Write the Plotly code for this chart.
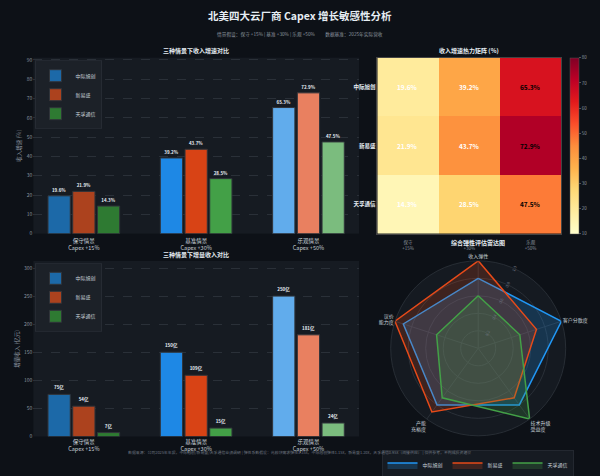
import plotly.graph_objects as go

# ---------------- data ----------------
companies = ["中际旭创", "新易盛", "天孚通信"]
scenarios = ["保守情景<br>Capex +15%", "基准情景<br>Capex +30%", "乐观情景<br>Capex +50%"]
heat_cols = ["保守<br>+15%", "基准<br>+30%", "乐观<br>+50%"]

growth_zjxc = [19.6, 39.2, 65.3]
growth_xys = [21.9, 43.7, 72.9]
growth_tfts = [14.3, 28.5, 47.5]

incr_zjxc = [75, 150, 250]
incr_xys = [54, 109, 181]
incr_tfts = [7, 15, 24]

radar_dims = ["收入弹性", "客户分散度", "技术升级<br>受益度", "产能<br>充裕度", "议价<br>能力度"]
radar_zjxc = [0.8, 1.0, 0.8, 0.8, 0.9]
radar_xys = [1.0, 0.7, 0.7, 0.9, 1.0]
radar_tfts = [0.6, 0.5, 1.0, 0.7, 0.5]

# ---------------- styles ----------------
FONT = "Noto Sans CJK SC, DejaVu Sans, sans-serif"
BG = "#0d1117"
PANEL = "#161b22"
GRID = "#2a3038"
TXT = "#e6edf3"
MUTED = "#8b949e"

bar_colors = {
    "中际旭创": ["#1c69a8", "#1e88e5", "#61acec"],
    "新易盛": ["#ac421e", "#d84315", "#e98060"],
    "天孚通信": ["#2e7a32", "#43a047", "#7bbc7e"],
}
radar_colors = {"中际旭创": "#2196f3", "新易盛": "#e64a19", "天孚通信": "#43a047"}
radar_fill = {"中际旭创": "rgba(33,150,243,0.22)", "新易盛": "rgba(230,74,25,0.20)",
              "天孚通信": "rgba(67,160,71,0.22)"}
ylorrd = ["#ffffcc", "#ffeda0", "#fed976", "#feb24c", "#fd8d3c",
          "#fc4e2a", "#e31a1c", "#bd0026", "#800026"]

fig = go.Figure()

growth_series = [growth_zjxc, growth_xys, growth_tfts]
incr_series = [incr_zjxc, incr_xys, incr_tfts]

# top bar chart
for name, vals in zip(companies, growth_series):
    fig.add_trace(go.Bar(
        x=scenarios, y=vals, name=name, legend="legend",
        marker=dict(color=bar_colors[name], line=dict(color="#30343a", width=1)),
        text=[f"{v}%" for v in vals], textposition="outside",
        textfont=dict(size=4.5, color=TXT, family=FONT, weight="bold"),
        cliponaxis=False, xaxis="x", yaxis="y"))

# bottom bar chart
for name, vals in zip(companies, incr_series):
    fig.add_trace(go.Bar(
        x=scenarios, y=vals, name=name, legend="legend2",
        marker=dict(color=bar_colors[name], line=dict(color="#30343a", width=1)),
        text=[f"{v}亿" for v in vals], textposition="outside",
        textfont=dict(size=4.5, color=TXT, family=FONT, weight="bold"),
        cliponaxis=False, xaxis="x3", yaxis="y3"))

# heatmap
heat_z = growth_series
fig.add_trace(go.Heatmap(
    z=heat_z, x=heat_cols, y=companies, colorscale=[[i / 8, c] for i, c in enumerate(ylorrd)],
    zmin=10, zmax=80, xaxis="x2", yaxis="y2", showscale=True,
    colorbar=dict(x=569.5 / 600, xanchor="left", xpad=0, ypad=0, thickness=9, len=175.5 / 476,
                  y=(476 - 145.8) / 476, yanchor="middle", tickvals=list(range(10, 81, 10)),
                  tickfont=dict(size=4.5, color=MUTED, family=FONT),
                  outlinewidth=0.5, outlinecolor="#555", ticks="outside", ticklen=2,
                  tickcolor="#555")))

annotations = []
for i, name in enumerate(companies):
    for j, col in enumerate(heat_cols):
        v = heat_z[i][j]
        annotations.append(dict(
            x=col, y=name, xref="x2", yref="y2", text=f"{v}%", showarrow=False,
            font=dict(size=6.5, color="black" if v > 45 else "white", family=FONT, weight="bold")))

# radar
for name, vals in zip(companies, [radar_zjxc, radar_xys, radar_tfts]):
    fig.add_trace(go.Scatterpolar(
        r=vals + vals[:1], theta=radar_dims + radar_dims[:1], name=name,
        mode="lines", fill="toself", fillcolor=radar_fill[name],
        line=dict(color=radar_colors[name], width=1.5), legend="legend3"))

# ---------------- text ----------------
def txt(x, y, s, size, color=TXT, bold=False):
    annotations.append(dict(x=x / 600, y=(476 - y) / 476, xref="paper", yref="paper",
                            text=s, showarrow=False, xanchor="center", yanchor="middle",
                            font=dict(size=size, color=color, family=FONT,
                                      weight="bold" if bold else "normal")))

txt(300, 16, "北美四大云厂商 Capex 增长敏感性分析", 10.5, TXT, True)
txt(300, 35, "情景假设：保守 +15% | 基准 +30% | 乐观 +50%　　 数据基准：2025年实际营收", 4.7, MUTED)
txt(196, 51, "三种情景下收入增速对比", 6, TXT, True)
txt(469, 51, "收入增速热力矩阵 (%)", 6, TXT, True)
txt(196, 254, "三种情景下增量收入对比", 6, TXT, True)
txt(478, 243, "综合弹性评估雷达图", 6, TXT, True)
txt(299, 452, "数据来源：公司2025年年报，中际旭创/新易盛/天孚通信业绩调研 | 弹性系数假设：光模块需求弹性1.35x，"
              "中际旭创弹性1.15x，新易盛1.20x，天孚通信0.95x（间接供应） | 仅供参考，不构成投资建议", 3.9, "#6e7681")

axis_font = dict(size=5, color=MUTED, family=FONT)
xlab_font = dict(size=5.5, color="#c9d1d9", family=FONT)

legend_common = dict(bgcolor="#1c2128", bordercolor="#30363d", borderwidth=0.5,
                     font=dict(size=5, color="#c9d1d9", family=FONT),
                     xanchor="left", yanchor="top", itemwidth=30)

fig.update_layout(
    width=600, height=476, margin=dict(l=0, r=0, t=0, b=0, autoexpand=False),
    paper_bgcolor=BG, plot_bgcolor=PANEL,
    font=dict(family=FONT, color=TXT),
    barmode="group", bargap=0.34, bargroupgap=0.1,
    xaxis=dict(domain=[33.3 / 600, 359 / 600], anchor="y", range=[-0.45, 2.45],
               tickfont=xlab_font, showgrid=False, zeroline=False, ticks="", ticklabelstandoff=3),
    yaxis=dict(domain=[(476 - 233.7) / 476, (476 - 57.7) / 476], anchor="x",
               range=[0, 91.1], dtick=10, tickfont=axis_font, gridcolor=GRID,
               griddash="dash", gridwidth=0.6, zeroline=False,
               title=dict(text="收入增速 (%)", font=dict(size=5.5, color=MUTED, family=FONT), standoff=4)),
    xaxis2=dict(domain=[377.3 / 600, 561.3 / 600], anchor="y2", tickfont=dict(size=4.5, color=MUTED, family=FONT),
                showgrid=False, zeroline=False, ticks="", showline=True, mirror=True, linecolor="#444",
                linewidth=0.5, ticklabelstandoff=4),
    yaxis2=dict(domain=[(476 - 233.7) / 476, (476 - 57.7) / 476], anchor="x2", autorange="reversed",
                tickfont=dict(size=5.5, color=TXT, family=FONT, weight="bold"), showgrid=False,
                zeroline=False, ticks="", showline=True, mirror=True, linecolor="#444", linewidth=0.5),
    xaxis3=dict(domain=[33.3 / 600, 359 / 600], anchor="y3", range=[-0.45, 2.45],
                tickfont=xlab_font, showgrid=False, zeroline=False, ticks="", ticklabelstandoff=1),
    yaxis3=dict(domain=[(476 - 436.5) / 476, (476 - 261) / 476], anchor="x3",
                range=[0, 312.5], dtick=50, tickfont=axis_font, gridcolor=GRID,
                griddash="dash", gridwidth=0.6, zeroline=False,
                title=dict(text="增量收入 (亿元)", font=dict(size=5.5, color=MUTED, family=FONT), standoff=4)),
    polar=dict(
        domain=dict(x=[390.7 / 600, 565.7 / 600], y=[(476 - 435.8) / 476, (476 - 260.8) / 476]),
        bgcolor="#151a21",
        radialaxis=dict(range=[0, 1], tickvals=[0.2, 0.4, 0.6, 0.8, 1.0],
                        ticktext=["0.2", "0.4", "0.6", "0.8", "1.0"], angle=67.5, tickangle=0,
                        tickfont=dict(size=4, color="#6e7681", family=FONT),
                        gridcolor=GRID, gridwidth=0.6, showline=False, ticks=""),
        angularaxis=dict(rotation=90, direction="clockwise", gridcolor=GRID, gridwidth=0.6,
                         linecolor="#2d333b", linewidth=0.8, ticks="",
                         tickfont=dict(size=5, color="#c9d1d9", family=FONT))),
    legend=dict(x=35 / 600, y=(476 - 60.7) / 476, **legend_common),
    legend2=dict(x=35 / 600, y=(476 - 263.3) / 476, **legend_common),
    legend3=dict(orientation="h", x=478 / 600, y=(476 - 465) / 476, xanchor="center",
                 yanchor="middle", bgcolor=PANEL, bordercolor="#30363d", borderwidth=0.5,
                 font=dict(size=5, color="#c9d1d9", family=FONT), itemwidth=30),
    annotations=annotations,
    showlegend=True,
)

fig.write_html("out.html")
